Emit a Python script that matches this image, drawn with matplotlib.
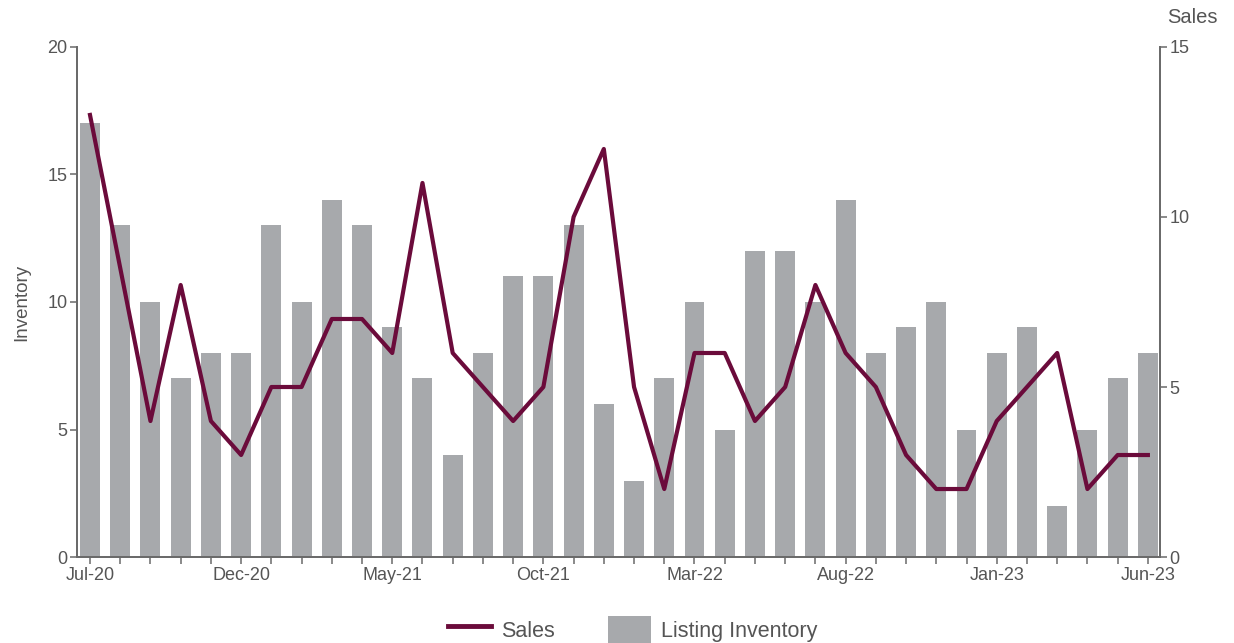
import numpy as np
from matplotlib import pyplot as plt
from matplotlib.lines import Line2D
from matplotlib.patches import Patch

plt.rcParams['font.family'] = ['Liberation Sans', 'DejaVu Sans']

months = ['Jul-20', 'Aug-20', 'Sep-20', 'Oct-20', 'Nov-20', 'Dec-20',
          'Jan-21', 'Feb-21', 'Mar-21', 'Apr-21', 'May-21', 'Jun-21',
          'Jul-21', 'Aug-21', 'Sep-21', 'Oct-21', 'Nov-21', 'Dec-21',
          'Jan-22', 'Feb-22', 'Mar-22', 'Apr-22', 'May-22', 'Jun-22',
          'Jul-22', 'Aug-22', 'Sep-22', 'Oct-22', 'Nov-22', 'Dec-22',
          'Jan-23', 'Feb-23', 'Mar-23', 'Apr-23', 'May-23', 'Jun-23']
inventory = [17, 13, 10, 7, 8, 8, 13, 10, 14, 13, 9, 7, 4, 8, 11, 11, 13, 6,
             3, 7, 10, 5, 12, 12, 10, 14, 8, 9, 10, 5, 8, 9, 2, 5, 7, 8]
sales = [13, 8.5, 4, 8, 4, 3, 5, 5, 7, 7, 6, 11, 6, 5, 4, 5, 10, 12,
         5, 2, 6, 6, 4, 5, 8, 6, 5, 3, 2, 2, 4, 5, 6, 2, 3, 3]

bar_color = '#A7A9AC'
line_color = '#6B0B3B'
axis_color = '#6A6A6A'
text_color = '#555555'

x = np.arange(len(months))

fig = plt.figure(figsize=(12.34, 6.43), dpi=100)
ax = fig.add_axes([0.0624, 0.1337, 0.8776, 0.7933])
ax2 = ax.twinx()

ax.bar(x, inventory, width=0.66, color=bar_color, zorder=2)
ax2.plot(x, sales, color=line_color, linewidth=3, zorder=3)

ax.set_xlim(-0.43, 35.4)
ax.set_ylim(0, 20)
ax2.set_ylim(0, 15)
ax.set_yticks([0, 5, 10, 15, 20])
ax2.set_yticks([0, 5, 10, 15])

ax.set_xticks(x, minor=True)
ax.set_xticks(x[::5])
ax.set_xticklabels(months[::5])

for a in (ax, ax2):
    a.spines['top'].set_visible(False)
    for s in ('left', 'right', 'bottom'):
        a.spines[s].set_color(axis_color)
        a.spines[s].set_linewidth(1.3)
    a.tick_params(colors=axis_color, labelcolor=text_color, labelsize=13,
                  length=5, width=1.1)
ax.tick_params(axis='x', which='minor', length=5, width=1.1, colors=axis_color)
ax.tick_params(axis='x', pad=2)
ax.tick_params(axis='y', pad=2)
ax2.tick_params(axis='y', pad=2)

ax.set_ylabel('Inventory', color=text_color, fontsize=13.5, labelpad=12)
ax2.text(1.007, 1.04, 'Sales', transform=ax2.transAxes, color=text_color,
         fontsize=14.5, ha='left', va='bottom')

handles = [Line2D([0], [0], color=line_color, linewidth=3.5),
           Patch(facecolor=bar_color, edgecolor='none')]
fig.legend(handles, ['Sales', 'Listing Inventory'], loc='center',
           bbox_to_anchor=(0.5126, 0.021), ncol=2, frameon=False,
           fontsize=15.5, handlelength=2.0, handleheight=1.55,
           columnspacing=2.5, handletextpad=0.45, labelcolor=text_color)

fig.savefig('out.png', dpi=100)
